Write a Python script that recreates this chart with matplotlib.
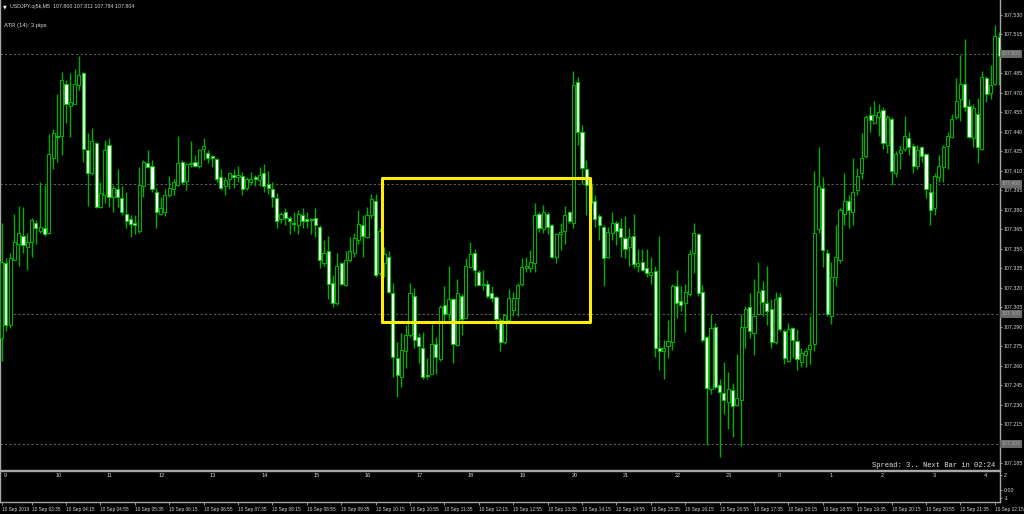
import matplotlib
matplotlib.use("Agg")
import matplotlib.pyplot as plt
import matplotlib.transforms as mtransforms
from matplotlib.patches import Rectangle
import numpy as np

# ---------------- data (USDJPY M5, 10 Sep 2019, first bar 03:00) ----------------
opens = [107.281, 107.339, 107.291, 107.341, 107.354, 107.360, 107.351, 107.355, 107.370, 107.364,
         107.366, 107.362, 107.420, 107.437, 107.437, 107.477, 107.460, 107.461, 107.476, 107.485,
         107.426, 107.408, 107.431, 107.382, 107.391, 107.430, 107.390, 107.396, 107.389, 107.377,
         107.373, 107.370, 107.364, 107.398, 107.416, 107.414, 107.394, 107.377, 107.378, 107.391,
         107.396, 107.399, 107.417, 107.402, 107.415, 107.417, 107.414, 107.427, 107.424, 107.421,
         107.419, 107.405, 107.398, 107.404, 107.407, 107.405, 107.406, 107.397, 107.401, 107.405,
         107.403, 107.408, 107.400, 107.396, 107.389, 107.373, 107.378, 107.374, 107.370, 107.368,
         107.376, 107.373, 107.373, 107.374, 107.367, 107.339, 107.348, 107.324, 107.308, 107.339,
         107.322, 107.341, 107.347, 107.357, 107.368, 107.359, 107.376, 107.387, 107.331, 107.339,
         107.344, 107.316, 107.266, 107.251, 107.271, 107.284, 107.314, 107.282, 107.274, 107.253,
         107.254, 107.277, 107.265, 107.307, 107.300, 107.311, 107.276, 107.314, 107.297, 107.336,
         107.347, 107.332, 107.322, 107.323, 107.316, 107.313, 107.295, 107.278, 107.295, 107.303,
         107.312, 107.323, 107.335, 107.335, 107.339, 107.377, 107.365, 107.377, 107.368, 107.344,
         107.361, 107.364, 107.378, 107.370, 107.478, 107.440, 107.411, 107.399, 107.387, 107.375,
         107.367, 107.344, 107.362, 107.370, 107.366, 107.358, 107.351, 107.360, 107.337, 107.340,
         107.335, 107.330, 107.333, 107.274, 107.271, 107.275, 107.278, 107.321, 107.310, 107.308,
         107.315, 107.347, 107.361, 107.317, 107.282, 107.242, 107.290, 107.245, 107.239, 107.232,
         107.241, 107.230, 107.234, 107.290, 107.305, 107.285, 107.300, 107.318, 107.308, 107.304,
         107.278, 107.313, 107.287, 107.264, 107.289, 107.279, 107.263, 107.268, 107.273, 107.277,
         107.365, 107.397, 107.347, 107.298, 107.328, 107.341, 107.377, 107.387, 107.378, 107.395,
         107.408, 107.421, 107.453, 107.447, 107.451, 107.457, 107.430, 107.450, 107.408, 107.424,
         107.427, 107.435, 107.429, 107.414, 107.428, 107.423, 107.394, 107.381, 107.405, 107.413,
         107.429, 107.436, 107.451, 107.465, 107.477, 107.460, 107.435, 107.454, 107.427, 107.481,
         107.470, 107.477, 107.513]
highs = [107.370, 107.343, 107.347, 107.377, 107.383, 107.382, 107.362, 107.374, 107.372, 107.401,
         107.399, 107.438, 107.442, 107.469, 107.486, 107.480, 107.485, 107.488, 107.498, 107.486,
         107.439, 107.443, 107.432, 107.401, 107.434, 107.435, 107.399, 107.411, 107.398, 107.394,
         107.376, 107.376, 107.413, 107.418, 107.426, 107.418, 107.397, 107.390, 107.396, 107.406,
         107.404, 107.437, 107.418, 107.416, 107.433, 107.422, 107.427, 107.435, 107.426, 107.422,
         107.420, 107.411, 107.405, 107.409, 107.411, 107.414, 107.409, 107.405, 107.409, 107.407,
         107.413, 107.415, 107.410, 107.401, 107.393, 107.378, 107.381, 107.375, 107.378, 107.380,
         107.381, 107.378, 107.374, 107.381, 107.368, 107.357, 107.360, 107.330, 107.347, 107.340,
         107.348, 107.359, 107.362, 107.380, 107.376, 107.382, 107.392, 107.392, 107.366, 107.351,
         107.348, 107.324, 107.278, 107.285, 107.291, 107.324, 107.320, 107.285, 107.286, 107.266,
         107.292, 107.282, 107.307, 107.321, 107.337, 107.312, 107.327, 107.315, 107.343, 107.355,
         107.350, 107.334, 107.334, 107.326, 107.321, 107.314, 107.297, 107.300, 107.319, 107.317,
         107.324, 107.343, 107.344, 107.349, 107.385, 107.378, 107.384, 107.378, 107.369, 107.362,
         107.370, 107.383, 107.379, 107.487, 107.482, 107.445, 107.418, 107.403, 107.391, 107.377,
         107.368, 107.367, 107.378, 107.371, 107.374, 107.375, 107.366, 107.377, 107.350, 107.350,
         107.350, 107.344, 107.337, 107.360, 107.280, 107.295, 107.323, 107.334, 107.321, 107.323,
         107.349, 107.370, 107.362, 107.322, 107.283, 107.300, 107.293, 107.250, 107.263, 107.255,
         107.247, 107.269, 107.300, 107.306, 107.316, 107.327, 107.340, 107.325, 107.337, 107.311,
         107.317, 107.316, 107.288, 107.293, 107.290, 107.288, 107.274, 107.274, 107.298, 107.410,
         107.428, 107.405, 107.350, 107.340, 107.368, 107.381, 107.408, 107.391, 107.420, 107.412,
         107.439, 107.453, 107.460, 107.464, 107.461, 107.459, 107.453, 107.451, 107.425, 107.430,
         107.452, 107.440, 107.431, 107.430, 107.429, 107.424, 107.400, 107.408, 107.422, 107.430,
         107.440, 107.454, 107.481, 107.499, 107.511, 107.465, 107.461, 107.466, 107.487, 107.483,
         107.491, 107.522, 107.517]
lows = [107.264, 107.287, 107.289, 107.341, 107.337, 107.347, 107.334, 107.344, 107.354, 107.362,
        107.360, 107.361, 107.411, 107.417, 107.422, 107.447, 107.436, 107.461, 107.472, 107.417,
        107.383, 107.407, 107.381, 107.381, 107.385, 107.382, 107.378, 107.382, 107.376, 107.366,
        107.359, 107.361, 107.362, 107.390, 107.412, 107.394, 107.366, 107.376, 107.375, 107.390,
        107.391, 107.398, 107.400, 107.395, 107.413, 107.413, 107.412, 107.418, 107.416, 107.413,
        107.401, 107.395, 107.391, 107.396, 107.397, 107.401, 107.391, 107.395, 107.399, 107.398,
        107.398, 107.394, 107.392, 107.382, 107.366, 107.370, 107.368, 107.361, 107.364, 107.361,
        107.366, 107.366, 107.361, 107.359, 107.335, 107.337, 107.311, 107.305, 107.307, 107.322,
        107.321, 107.340, 107.344, 107.354, 107.344, 107.358, 107.374, 107.328, 107.330, 107.328,
        107.316, 107.251, 107.236, 107.244, 107.258, 107.282, 107.274, 107.262, 107.250, 107.250,
        107.254, 107.254, 107.264, 107.294, 107.295, 107.262, 107.275, 107.284, 107.297, 107.335,
        107.321, 107.321, 107.318, 107.312, 107.309, 107.288, 107.271, 107.277, 107.294, 107.298,
        107.298, 107.321, 107.332, 107.332, 107.332, 107.363, 107.362, 107.361, 107.343, 107.339,
        107.349, 107.354, 107.370, 107.366, 107.430, 107.400, 107.376, 107.380, 107.367, 107.357,
        107.321, 107.343, 107.357, 107.353, 107.344, 107.343, 107.337, 107.335, 107.332, 107.333,
        107.328, 107.323, 107.267, 107.257, 107.250, 107.266, 107.272, 107.297, 107.302, 107.286,
        107.314, 107.331, 107.314, 107.278, 107.199, 107.238, 107.242, 107.190, 107.223, 107.211,
        107.205, 107.229, 107.198, 107.274, 107.281, 107.268, 107.299, 107.298, 107.291, 107.274,
        107.277, 107.287, 107.261, 107.263, 107.266, 107.257, 107.259, 107.259, 107.261, 107.271,
        107.362, 107.336, 107.298, 107.292, 107.321, 107.339, 107.368, 107.366, 107.368, 107.391,
        107.404, 107.420, 107.440, 107.446, 107.437, 107.427, 107.424, 107.399, 107.405, 107.411,
        107.425, 107.422, 107.408, 107.411, 107.417, 107.389, 107.368, 107.376, 107.401, 107.401,
        107.411, 107.435, 107.450, 107.448, 107.456, 107.435, 107.428, 107.416, 107.426, 107.463,
        107.465, 107.476, 107.476]
closes = [107.340, 107.291, 107.343, 107.355, 107.362, 107.353, 107.355, 107.372, 107.366, 107.367,
          107.361, 107.423, 107.439, 107.436, 107.480, 107.461, 107.463, 107.477, 107.484, 107.427,
          107.408, 107.433, 107.382, 107.393, 107.426, 107.390, 107.397, 107.390, 107.378, 107.371,
          107.369, 107.368, 107.399, 107.417, 107.413, 107.396, 107.378, 107.381, 107.391, 107.397,
          107.401, 107.416, 107.401, 107.415, 107.416, 107.414, 107.426, 107.429, 107.420, 107.420,
          107.404, 107.397, 107.403, 107.408, 107.405, 107.407, 107.396, 107.404, 107.404, 107.404,
          107.407, 107.398, 107.397, 107.390, 107.371, 107.377, 107.374, 107.371, 107.369, 107.377,
          107.371, 107.371, 107.372, 107.368, 107.341, 107.347, 107.323, 107.308, 107.337, 107.323,
          107.341, 107.348, 107.358, 107.369, 107.360, 107.376, 107.388, 107.330, 107.364, 107.346,
          107.317, 107.267, 107.253, 107.272, 107.284, 107.316, 107.280, 107.275, 107.251, 107.252,
          107.277, 107.267, 107.305, 107.300, 107.311, 107.277, 107.316, 107.296, 107.337, 107.346,
          107.334, 107.322, 107.323, 107.314, 107.312, 107.296, 107.278, 107.299, 107.312, 107.312,
          107.322, 107.336, 107.337, 107.340, 107.376, 107.366, 107.378, 107.367, 107.344, 107.361,
          107.363, 107.376, 107.371, 107.476, 107.440, 107.412, 107.399, 107.385, 107.373, 107.368,
          107.343, 107.363, 107.370, 107.364, 107.359, 107.350, 107.359, 107.338, 107.339, 107.334,
          107.331, 107.332, 107.274, 107.271, 107.274, 107.279, 107.321, 107.308, 107.307, 107.317,
          107.346, 107.362, 107.316, 107.280, 107.243, 107.289, 107.244, 107.240, 107.234, 107.242,
          107.229, 107.235, 107.290, 107.304, 107.287, 107.298, 107.317, 107.309, 107.302, 107.278,
          107.311, 107.288, 107.266, 107.288, 107.280, 107.265, 107.270, 107.271, 107.276, 107.362,
          107.398, 107.349, 107.300, 107.328, 107.344, 107.380, 107.387, 107.380, 107.394, 107.406,
          107.420, 107.451, 107.449, 107.453, 107.455, 107.431, 107.451, 107.410, 107.423, 107.426,
          107.437, 107.428, 107.414, 107.426, 107.421, 107.396, 107.380, 107.406, 107.414, 107.428,
          107.437, 107.450, 107.464, 107.477, 107.459, 107.436, 107.458, 107.428, 107.482, 107.469,
          107.476, 107.514, 107.498]

price_ticks = [round(107.530 - 0.015 * k, 3) for k in range(24)]
level_lines = [107.500, 107.400, 107.300, 107.200]
box_bars = (88.5, 136.9)
box_prices = (107.2935, 107.4045)

hour_labels = ["9", "10", "11", "12", "13", "14", "15", "16", "17", "18", "19", "20",
               "21", "22", "23", "0", "1", "2", "3", "4"]
time_labels = ["10 Sep 2019", "10 Sep 03:35", "10 Sep 04:15", "10 Sep 04:55", "10 Sep 05:35",
               "10 Sep 06:15", "10 Sep 06:55", "10 Sep 07:35", "10 Sep 08:15", "10 Sep 08:55",
               "10 Sep 09:35", "10 Sep 10:15", "10 Sep 10:55", "10 Sep 11:35", "10 Sep 12:15",
               "10 Sep 12:55", "10 Sep 13:35", "10 Sep 14:15", "10 Sep 14:55", "10 Sep 15:35",
               "10 Sep 16:15", "10 Sep 16:55", "10 Sep 17:35", "10 Sep 18:15", "10 Sep 18:55",
               "10 Sep 19:35", "10 Sep 20:15", "10 Sep 20:55", "10 Sep 21:35", "10 Sep 22:15"]
first_bar_minutes = 3 * 60
bar_minutes = 5

header = "USDJPY.oj5k,M5  107.800 107.811 107.784 107.804"
atr_text = "ATR (14): 3 pips"
status_text = "Spread: 3.. Next Bar in 02:24"

# ---------------- layout ----------------
W, H = 1024, 514
fig = plt.figure(figsize=(W / 100, H / 100), dpi=100, facecolor="black")

MAIN_BOT = 470
SUB_TOP, SUB_BOT = 471, 502
CHART_R = 1000
PX_PER_BAR = 4.3
FIRST_PX = 1.5
PX_PER_PRICE = 1300.0
TOP_PRICE = 107.530 + 14.7 / PX_PER_PRICE

ax = fig.add_axes([0, 1 - MAIN_BOT / H, CHART_R / W, MAIN_BOT / H])
sub = fig.add_axes([0, 1 - SUB_BOT / H, CHART_R / W, (SUB_BOT - SUB_TOP) / H])
for a in (ax, sub):
    a.set_facecolor("black")
    a.set_xlim(-FIRST_PX / PX_PER_BAR, (CHART_R - FIRST_PX) / PX_PER_BAR)
    for s in a.spines.values():
        s.set_color("#a8a8a8")
        s.set_linewidth(1.0)

ax.set_ylim(TOP_PRICE - MAIN_BOT / PX_PER_PRICE, TOP_PRICE)
ax.spines["top"].set_visible(False)

SMALL = "Liberation Sans"
TXT = "#d8d8d8"
AXFS = 3.8

# level lines (dotted)
for lv in level_lines:
    ax.axhline(lv, color="#5c5c5c", lw=0.8, ls=(0, (2, 2)), zorder=1)

# candles
o = np.array(opens); h = np.array(highs); l = np.array(lows); c = np.array(closes)
idx = np.arange(len(o))
up = c >= o
ax.vlines(idx, l, h, color="#00b000", lw=1.0, zorder=2)
bottoms = np.minimum(o, c)
heights = np.maximum(np.abs(c - o), 0.0007)
ax.bar(idx[up], heights[up], bottom=bottoms[up], width=0.72, facecolor="black",
       edgecolor="#00b000", linewidth=0.8, zorder=3)
ax.bar(idx[~up], heights[~up], bottom=bottoms[~up], width=0.72, facecolor="white",
       edgecolor="#00c800", linewidth=0.8, zorder=3)

# yellow rectangle
ax.add_patch(Rectangle((box_bars[0], box_prices[0]), box_bars[1] - box_bars[0],
                       box_prices[1] - box_prices[0], fill=False, edgecolor="#ffee00",
                       linewidth=2.2, joinstyle="round", zorder=5))

# right price axis (labels hidden where a level box sits)
def covered(p):
    return any(abs(p - lv) < 1e-6 for lv in level_lines)

ax.yaxis.tick_right()
ax.set_yticks(price_ticks)
ax.set_yticklabels(["" if covered(p) else f"{p:.3f}" for p in price_ticks],
                   fontsize=AXFS, color=TXT, family=SMALL)
ax.tick_params(axis="y", direction="out", length=1.5, width=0.6, color="#a8a8a8", pad=1.0)
ax.tick_params(axis="x", bottom=False, labelbottom=False)

blend = mtransforms.blended_transform_factory(ax.transAxes, ax.transData)
for lv in level_lines:
    ax.text(1.0012, lv, f"{lv:.3f}", transform=blend, ha="left", va="center", fontsize=AXFS,
            color="#a4a4a4", family=SMALL, clip_on=False, zorder=10,
            bbox=dict(boxstyle="square,pad=0.25", fc="#6a6a6a", ec="none"))

# header texts
fig.text(3 / W, 1 - 6.5 / H, "\u25bc", fontsize=3.5, color="white", family="DejaVu Sans",
         ha="left", va="center")
fig.text(10 / W, 1 - 6.5 / H, header, fontsize=3.8, color=TXT, family=SMALL,
         ha="left", va="center")
fig.text(4 / W, 1 - 25 / H, atr_text, fontsize=4.2, color=TXT, family=SMALL,
         ha="left", va="center")
fig.text(995 / W, 1 - 465.5 / H, status_text, fontsize=5.1, color="#e0e0e0",
         family="Liberation Mono", ha="right", va="center")

# sub window
sub.set_ylim(-1.55, 2.6)
sub.yaxis.tick_right()
sub.set_yticks([2, 0, -1])
sub.set_yticklabels(["2", "0.00", "-1"], fontsize=AXFS, color=TXT, family=SMALL)
sub.tick_params(axis="y", direction="out", length=1.5, width=0.6, color="#a8a8a8", pad=1.0)
for k, lab in enumerate(hour_labels):
    sub.text(k * 60 / bar_minutes + 0.5, 2.0, lab, fontsize=4, color=TXT, family=SMALL,
             ha="left", va="center")

def bar_of(label):
    if label.endswith("2019"):
        return 0
    hh, mm = label.split()[-1].split(":")
    return (int(hh) * 60 + int(mm) - first_bar_minutes) / bar_minutes

sub.set_xticks([bar_of(t) for t in time_labels])
sub.set_xticklabels(time_labels, fontsize=3.4, color=TXT, family=SMALL)
for lbl in sub.get_xticklabels():
    lbl.set_ha("left")
sub.tick_params(axis="x", direction="out", length=2.5, width=0.6, color="#a8a8a8", pad=0.8)

fig.savefig("out.png", dpi=100, facecolor="black")
